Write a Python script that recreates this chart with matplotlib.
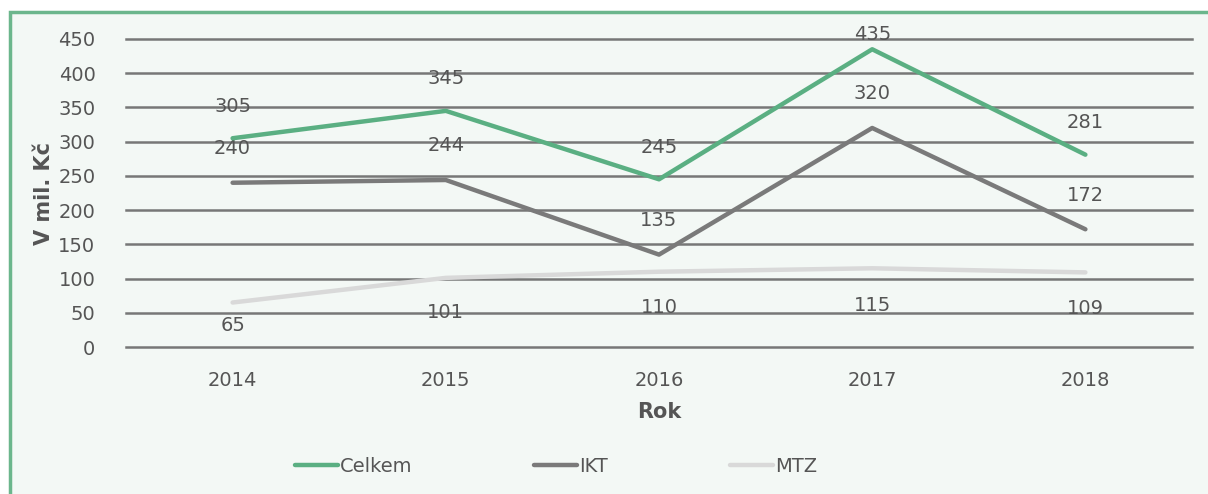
import matplotlib.pyplot as plt
from matplotlib.patches import Rectangle

plt.rcParams['font.family'] = ['DejaVu Sans']

# data
roky = ['2014', '2015', '2016', '2017', '2018']
celkem = [305, 345, 245, 435, 281]
ikt = [240, 244, 135, 320, 172]
mtz = [65, 101, 110, 115, 109]

# label offsets in pixels (Excel-style placement)
off_celkem = [32, 32, 32, 15, 32]
off_ikt = [34, 34, 34, 34, 34]
off_mtz = [-23, -35, -36, -37, -36]

bg = '#f3f8f5'
txt = '#555555'

fig = plt.figure(figsize=(12.08, 4.94), dpi=100)
fig.patch.set_facecolor('white')

# green frame of the panel, behind the axes
frame = Rectangle((10 / 1208, -0.01), 1.0, 1 - 12 / 494 + 0.01,
                  transform=fig.transFigure, facecolor=bg,
                  edgecolor='#6bb68c', lw=2.5, zorder=-1)
fig.patches.append(frame)

ax = fig.add_axes([126 / 1208, 1 - 347 / 494, (1192 - 126) / 1208, (347 - 39) / 494])
ax.set_facecolor('none')

x = range(len(roky))
ax.plot(x, mtz, color='#d9d9d9', lw=3.2, solid_capstyle='round', label='MTZ', zorder=3)
ax.plot(x, ikt, color='#7a7a7a', lw=3.2, solid_capstyle='round', label='IKT', zorder=4)
ax.plot(x, celkem, color='#5aaf82', lw=3.2, solid_capstyle='round', label='Celkem', zorder=5)

for i in x:
    ax.annotate(str(celkem[i]), (i, celkem[i]), xytext=(0, off_celkem[i]), textcoords='offset pixels',
                ha='center', va='center', fontsize=14, color=txt)
    ax.annotate(str(ikt[i]), (i, ikt[i]), xytext=(0, off_ikt[i]), textcoords='offset pixels',
                ha='center', va='center', fontsize=14, color=txt)
    ax.annotate(str(mtz[i]), (i, mtz[i]), xytext=(0, off_mtz[i]), textcoords='offset pixels',
                ha='center', va='center', fontsize=14, color=txt)

ax.set_xlim(-0.5, 4.5)
ax.set_ylim(0, 450)
ax.set_yticks(range(0, 451, 50))
ax.set_xticks(list(x))
ax.set_xticklabels(roky)
ax.yaxis.grid(True, color='#777777', lw=1.8)
for gl in ax.get_ygridlines():
    gl.set_clip_on(False)
ax.set_axisbelow(True)
for s in ax.spines.values():
    s.set_visible(False)
ax.tick_params(length=0, labelsize=14, labelcolor=txt)
ax.tick_params(axis='y', pad=22)
ax.tick_params(axis='x', pad=17)

ax.set_xlabel('Rok', fontsize=15, fontweight='bold', color=txt, labelpad=9)
ax.set_ylabel('V mil. Kč', fontsize=15, fontweight='bold', color=txt, labelpad=3)

h, l = ax.get_legend_handles_labels()
order = [2, 1, 0]
fig.legend([h[i] for i in order], [l[i] for i in order], loc='center',
           bbox_to_anchor=(556 / 1208, 1 - 466 / 494), ncol=3, frameon=False,
           fontsize=14, labelcolor=txt, handlelength=2.2, handletextpad=0.1,
           columnspacing=6.3)

fig.savefig('out.png', dpi=100, facecolor=fig.get_facecolor())
